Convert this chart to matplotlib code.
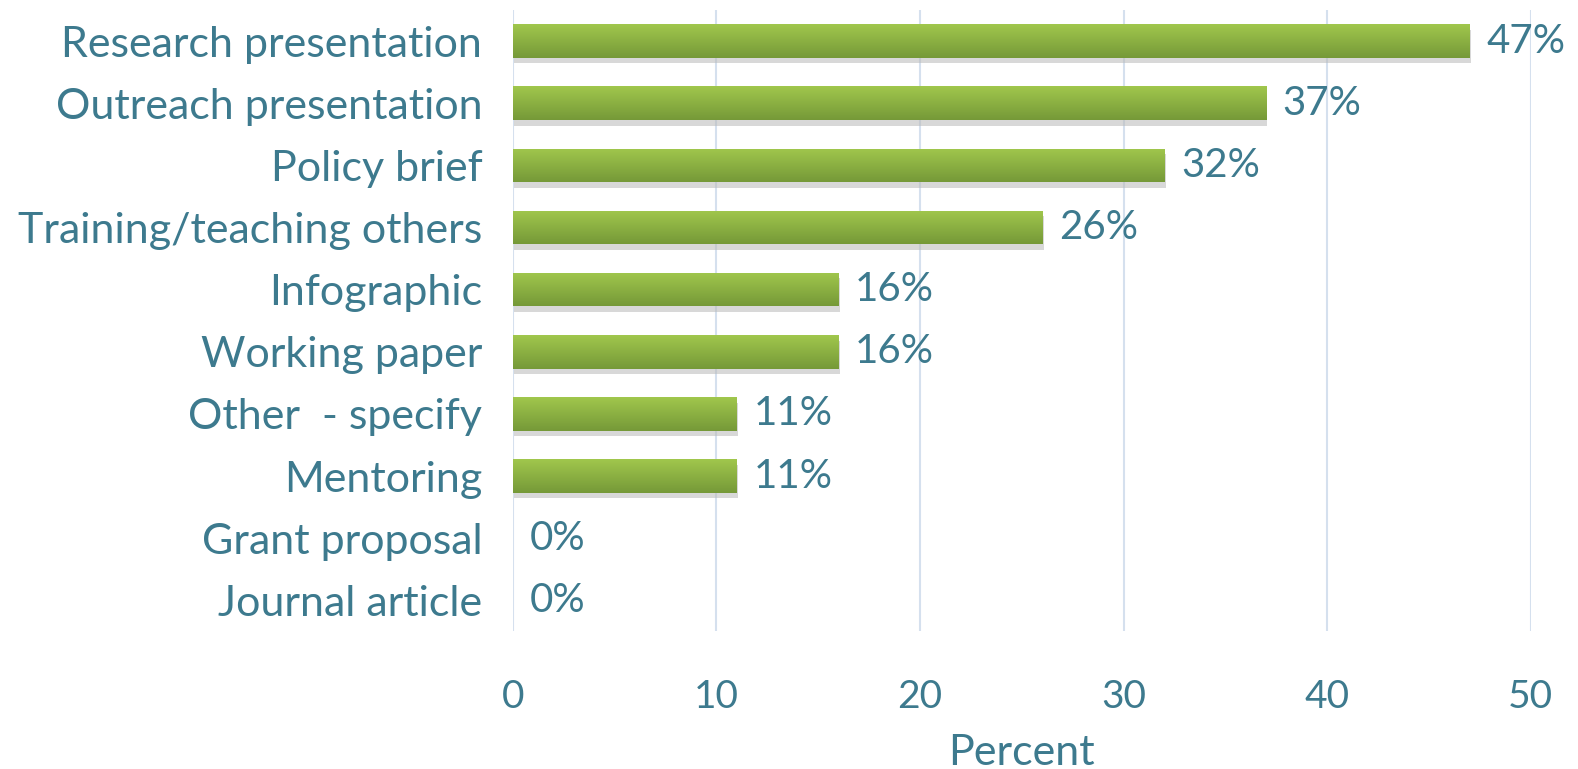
import matplotlib
matplotlib.use("Agg")
import matplotlib.pyplot as plt
import matplotlib.patheffects as pe
import numpy as np

categories = ["Research presentation", "Outreach presentation", "Policy brief",
              "Training/teaching others", "Infographic", "Working paper",
              "Other  - specify", "Mentoring", "Grant proposal", "Journal article"]
values = [47, 37, 32, 26, 16, 16, 11, 11, 0, 0]
xticks = [0, 10, 20, 30, 40, 50]

TEXT = "#3d7a8e"
plt.rcParams['font.family'] = ['Lato', 'DejaVu Sans']

fig = plt.figure(figsize=(15.78, 7.69), dpi=100)
ax = fig.add_axes([0.325, 0.179, 0.645, 0.808])

ypos = np.arange(len(categories))
bars = ax.barh(ypos, values, height=0.54, color="#8db344", zorder=3,
               path_effects=[pe.SimplePatchShadow(offset=(1, -4), shadow_rgbFace="#b8b8b8", alpha=0.55),
                             pe.Normal()])

grad = np.linspace(0, 1, 100).reshape(-1, 1)
top = np.array([0.63, 0.78, 0.30])
bot = np.array([0.46, 0.60, 0.22])
img = top[None, None, :] * (1 - grad[:, :, None]) + bot[None, None, :] * grad[:, :, None]
for b in bars:
    x0, y0 = b.get_x(), b.get_y()
    w, h = b.get_width(), b.get_height()
    if w <= 0:
        continue
    im = ax.imshow(img, extent=(x0, x0 + w, y0 + h, y0), aspect='auto', zorder=4,
                   interpolation='bilinear')
    im.set_clip_path(b)

for y, v in zip(ypos, values):
    ax.annotate(f"{v}%", (v, y), xytext=(12, 0), textcoords='offset points',
                va='center', ha='left', fontsize=29, color=TEXT, zorder=5)

ax.set_ylim(len(categories) - 0.5, -0.5)
ax.set_xlim(0, 50)
ax.set_yticks(ypos)
ax.set_yticklabels(categories)
ax.set_xticks(xticks)
ax.set_xticklabels([str(t) for t in xticks])
ax.tick_params(axis='y', length=0, pad=22, labelsize=31, labelcolor=TEXT)
ax.tick_params(axis='x', length=0, pad=34, labelsize=28, labelcolor=TEXT)
for s in ax.spines.values():
    s.set_visible(False)
ax.grid(axis='x', color="#d5e0ee", linewidth=1.5, zorder=0)
ax.set_axisbelow(True)
ax.set_xlabel("Percent", fontsize=31, color=TEXT, labelpad=14)

fig.savefig("out.png", dpi=100)
